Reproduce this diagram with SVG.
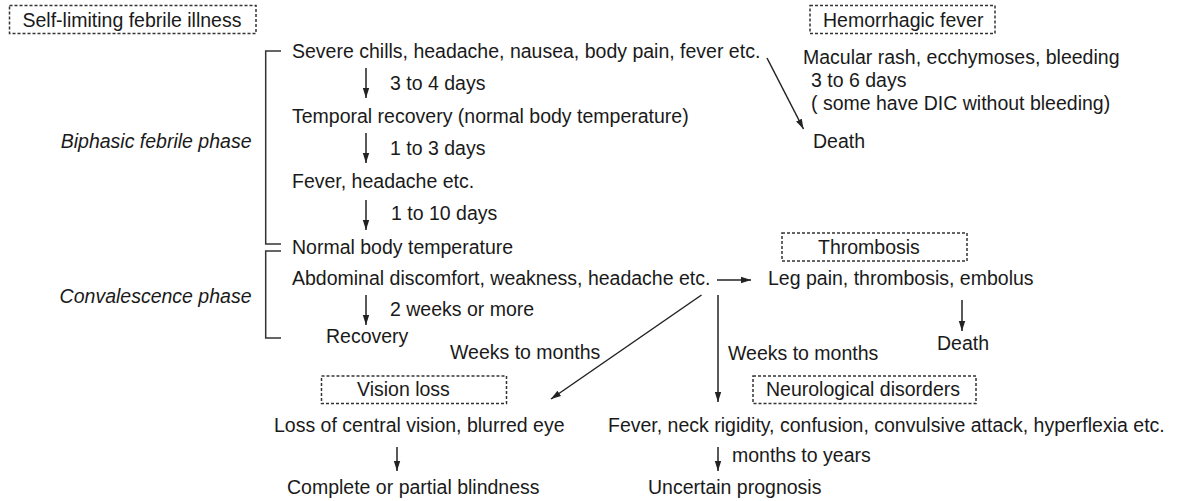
<svg xmlns="http://www.w3.org/2000/svg" width="1179" height="501" viewBox="0 0 1179 501">
<style>
text{font-family:"Liberation Sans",Arial,sans-serif;font-size:19.5px;fill:#1a1a1a}
.it{font-style:italic}
.box{fill:none;stroke:#333;stroke-width:1.5;stroke-dasharray:3 2}
.ln{fill:none;stroke:#222;stroke-width:1.5}
.br{fill:none;stroke:#333;stroke-width:1.5}
</style>
<defs>
<marker id="ah" markerUnits="userSpaceOnUse" markerWidth="10" markerHeight="10" viewBox="0 0 10 10" refX="10" refY="5" orient="auto">
<path d="M0,1.8 L10,5 L0,8.2 Z" fill="#222"/>
</marker>
</defs>
<rect width="1179" height="501" fill="#fff"/>
<g id="label-self-limiting"><rect class="box" x="9.5" y="5.5" width="246.5" height="28"/><text x="22.5" y="27">Self-limiting febrile illness</text></g>
<g id="label-hemorrhagic"><rect class="box" x="810" y="5.5" width="185" height="28"/><text x="823" y="27">Hemorrhagic fever</text></g>
<g id="label-thrombosis"><rect class="box" x="782" y="233" width="185" height="28"/><text x="818" y="254">Thrombosis</text></g>
<g id="label-vision"><rect class="box" x="321.5" y="376" width="185" height="27.5"/><text x="357" y="396">Vision loss</text></g>
<g id="label-neuro"><rect class="box" x="753" y="376" width="223" height="27.5"/><text x="766" y="396">Neurological disorders</text></g>
<g id="phase-biphasic"><text class="it" x="251.5" y="148" text-anchor="end">Biphasic febrile phase</text></g>
<g id="phase-convalescence"><text class="it" x="251.5" y="303" text-anchor="end">Convalescence phase</text></g>
<g id="n-severe"><text x="292" y="58">Severe chills, headache, nausea, body pain, fever etc.</text></g>
<g id="n-temporal"><text x="292" y="123">Temporal recovery (normal body temperature)</text></g>
<g id="n-fever"><text x="292" y="188">Fever, headache etc.</text></g>
<g id="n-normal"><text x="292" y="254">Normal body temperature</text></g>
<g id="n-abdominal"><text x="292" y="285">Abdominal discomfort, weakness, headache etc.</text></g>
<g id="n-recovery"><text x="326" y="343">Recovery</text></g>
<g id="n-macular"><text x="803" y="64">Macular rash, ecchymoses, bleeding</text><text x="811" y="87">3 to 6 days</text><text x="811" y="110">( some have DIC without bleeding)</text></g>
<g id="n-death1"><text x="813" y="148">Death</text></g>
<g id="n-leg"><text x="768" y="285">Leg pain, thrombosis, embolus</text></g>
<g id="n-death2"><text x="937" y="350">Death</text></g>
<g id="n-loss"><text x="274" y="432">Loss of central vision, blurred eye</text></g>
<g id="n-blind"><text x="287" y="494">Complete or partial blindness</text></g>
<g id="n-neuro"><text x="608" y="432">Fever, neck rigidity, confusion, convulsive attack, hyperflexia etc.</text></g>
<g id="n-uncertain"><text x="648" y="494">Uncertain prognosis</text></g>
<g id="brackets">
<path class="br" d="M281,51 H265.7 V244 H281"/>
<path class="br" d="M281,251 H265.7 V338 H281"/>
</g>
<g id="connectors">
<line class="ln" x1="366" y1="68" x2="366" y2="98" marker-end="url(#ah)"/>
<line class="ln" x1="366" y1="133" x2="366" y2="163" marker-end="url(#ah)"/>
<line class="ln" x1="366" y1="200" x2="366" y2="230" marker-end="url(#ah)"/>
<line class="ln" x1="366" y1="295" x2="366" y2="325" marker-end="url(#ah)"/>
<line class="ln" x1="767" y1="58" x2="803.5" y2="129" marker-end="url(#ah)"/>
<line class="ln" x1="717" y1="280" x2="751" y2="280" marker-end="url(#ah)"/>
<line class="ln" x1="962" y1="300" x2="962" y2="331" marker-end="url(#ah)"/>
<line class="ln" x1="701.5" y1="295" x2="551" y2="399" marker-end="url(#ah)"/>
<line class="ln" x1="718" y1="295" x2="718" y2="402" marker-end="url(#ah)"/>
<line class="ln" x1="397" y1="447" x2="397" y2="471" marker-end="url(#ah)"/>
<line class="ln" x1="718" y1="447" x2="718" y2="471" marker-end="url(#ah)"/>
</g>
<g id="connector-labels">
<text x="390" y="90">3 to 4 days</text>
<text x="390" y="155">1 to 3 days</text>
<text x="391" y="220">1 to 10 days</text>
<text x="390" y="316">2 weeks or more</text>
<text x="450" y="359">Weeks to months</text>
<text x="728" y="360">Weeks to months</text>
<text x="732" y="462">months to years</text>
</g>
</svg>
